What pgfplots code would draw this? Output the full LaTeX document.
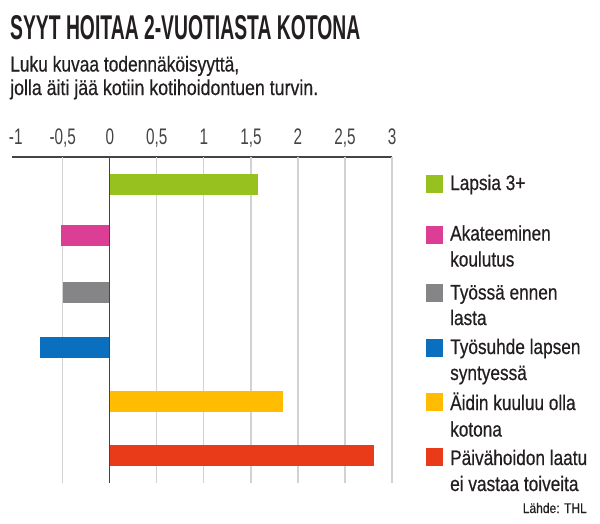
\documentclass[border=0pt]{standalone}
\usepackage{fontspec}
\setmainfont{Liberation Sans}
\newfontfamily\medfont[FakeBold=0.6]{Liberation Sans}
\usepackage{graphicx}
\usepackage{pgfplots}
\pgfplotsset{compat=1.18}
\definecolor{cgreen}{HTML}{96C11F}
\definecolor{cpink}{HTML}{DC3E95}
\definecolor{cgray}{HTML}{858487}
\definecolor{cblue}{HTML}{0B6FC0}
\definecolor{cyellow}{HTML}{FFBC00}
\definecolor{cred}{HTML}{E93A1A}
\definecolor{cgrid}{HTML}{D2D2D2}
\definecolor{caxis}{HTML}{444444}
\definecolor{ctext}{HTML}{231F20}
\newlength\tmpl
\newcommand\leg[1]{\scalebox{\legsx}[1]{\medfont\fontsize{21}{26}\selectfont #1}}
\begin{document}%
\settowidth\tmpl{\medfont\fontsize{21}{26}\selectfont Päivähoidon laatu}%
\pgfmathsetmacro\legsx{137/\tmpl}%
\begin{tikzpicture}[x=1pt,y=1pt]
\path[use as bounding box] (0,0) rectangle (600,-523);
% title
\node[anchor=base west, inner sep=0, text=ctext] at (10,-39) {\resizebox{350pt}{24pt}{\bfseries SYYT HOITAA 2-VUOTIASTA KOTONA}};
\node[anchor=base west, inner sep=0, text=ctext] at (10,-71.5) {\resizebox{229pt}{\height}{\medfont\fontsize{21.5}{24}\selectfont Luku kuvaa todennäköisyyttä,}};
\node[anchor=base west, inner sep=0, text=ctext] at (10,-95) {\resizebox{308pt}{\height}{\medfont\fontsize{21.5}{24}\selectfont jolla äiti jää kotiin kotihoidontuen turvin.}};
\begin{axis}[
  at={(12pt,-157pt)}, anchor=north west,
  scale only axis, width=380pt, height=326pt,
  xmin=-1.04, xmax=3, ymin=0, ymax=6,
  hide y axis,
  axis x line*=top,
  x axis line style={-, draw=caxis, line width=1.2pt},
  xticklabel pos=upper,
  major tick length=0pt,
  xtick={-1,-0.5,0,0.5,1,1.5,2,2.5,3},
  xticklabel={\scalebox{0.68}[1]{\pgfmathprintnumber{\tick}}},
  xticklabel style={font=\fontsize{22.5}{24}\selectfont, text=caxis, anchor=base, yshift=12.5pt},
  /pgf/number format/.cd, use comma, assume math mode=true,
  /pgfplots/.cd,
  extra x ticks={-0.5,0.5,1,1.5,2,2.5,3},
  extra x tick labels={},
  extra x tick style={grid=major, major grid style={draw=cgrid, line width=1.2pt}},
  clip=false,
]
\addplot[xbar, bar shift=0pt, bar width=21pt, fill=cgreen, draw=none] coordinates {(1.58,5.5)};
\addplot[xbar, bar shift=0pt, bar width=21pt, fill=cpink, draw=none] coordinates {(-0.52,4.55)};
\addplot[xbar, bar shift=0pt, bar width=21pt, fill=cgray, draw=none] coordinates {(-0.50,3.5)};
\addplot[xbar, bar shift=0pt, bar width=21pt, fill=cblue, draw=none] coordinates {(-0.74,2.5)};
\addplot[xbar, bar shift=0pt, bar width=21pt, fill=cyellow, draw=none] coordinates {(1.84,1.5)};
\addplot[xbar, bar shift=0pt, bar width=21pt, fill=cred, draw=none] coordinates {(2.81,0.5)};
\addplot[caxis, line width=1.2pt] coordinates {(0,0) (0,6)};
\end{axis}
% legend
\fill[cgreen]  (426,-174.5) rectangle (443,-192.5);
\fill[cpink]   (426,-226) rectangle (443,-244);
\fill[cgray]   (426,-283.5) rectangle (443,-301.5);
\fill[cblue]   (426,-338.5) rectangle (443,-356.5);
\fill[cyellow] (426,-392.5) rectangle (443,-410.5);
\fill[cred]    (426,-447.5) rectangle (443,-465.5);
\begin{scope}[every node/.style={anchor=base west, inner sep=0, text=ctext}]
\node at (450,-190) {\leg{Lapsia 3+}};
\node at (450,-240.5) {\leg{Akateeminen}};
\node at (450,-266.5) {\leg{koulutus}};
\node at (450,-299.5) {\leg{Työssä ennen}};
\node at (450,-325) {\leg{lasta}};
\node at (450,-354) {\leg{Työsuhde lapsen}};
\node at (450,-380) {\leg{syntyessä}};
\node at (450,-410) {\leg{Äidin kuuluu olla}};
\node at (450,-436.5) {\leg{kotona}};
\node at (450,-465) {\leg{Päivähoidon laatu}};
\node at (450,-491) {\leg{ei vastaa toiveita}};
\end{scope}
\node[anchor=base east, inner sep=0, text=ctext] at (587,-513) {\resizebox{64pt}{\height}{\medfont\fontsize{14}{16}\selectfont Lähde: THL}};
\end{tikzpicture}%
\end{document}
